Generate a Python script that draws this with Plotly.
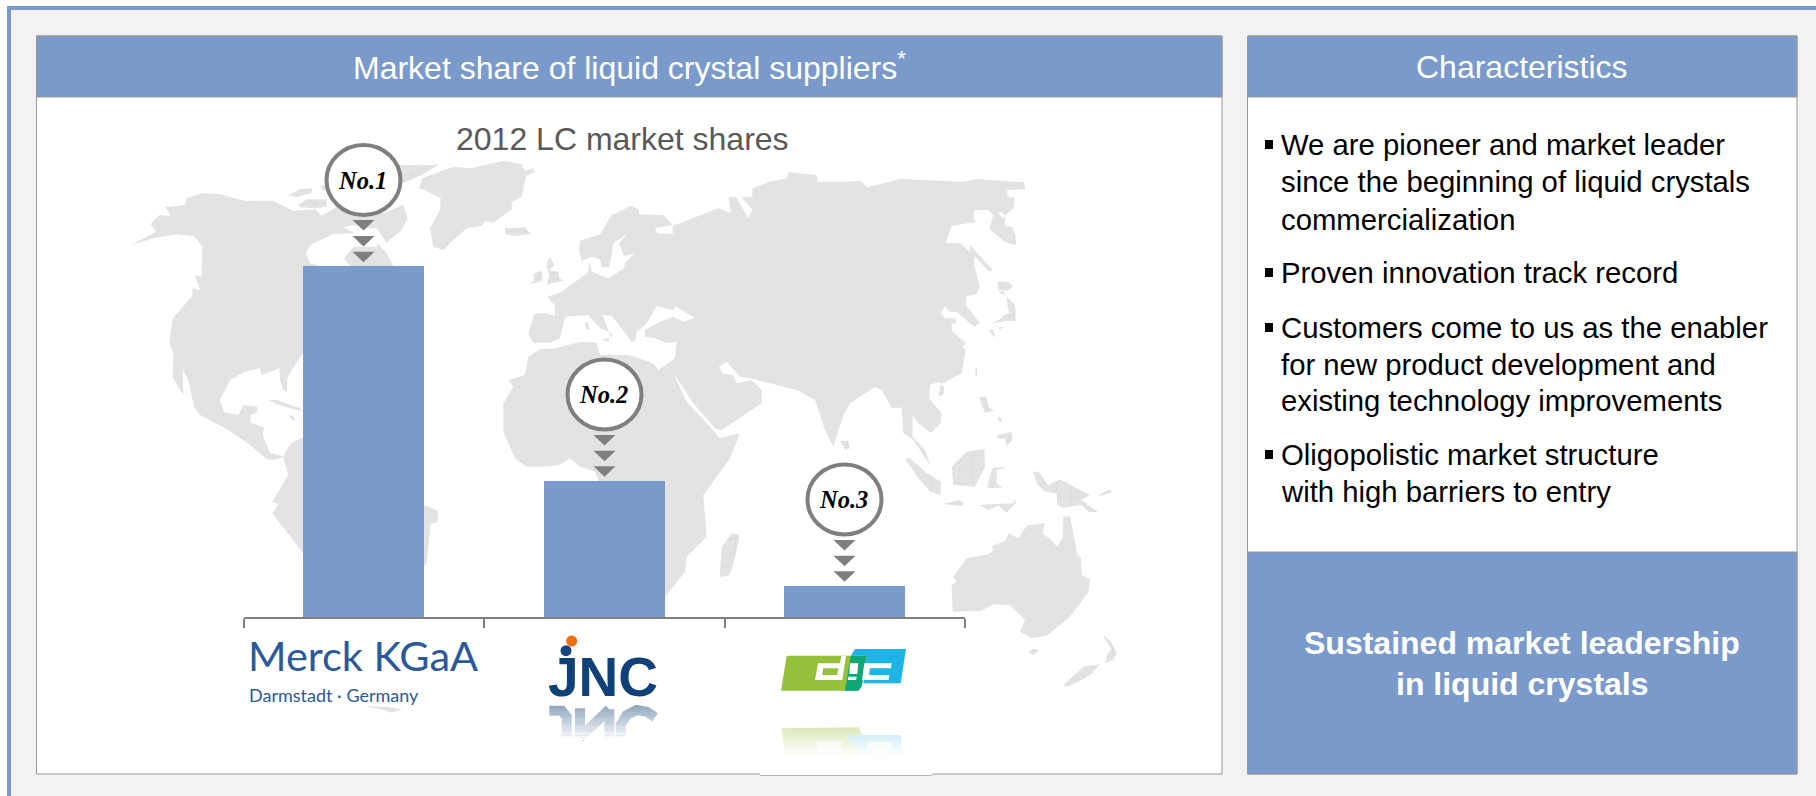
import plotly.graph_objects as go

# ---------------- chart data ----------------
suppliers = ["Merck KGaA", "JNC", "DIC"]
shares = [68.0, 26.4, 6.1]          # bar heights (no axis labels in the source)
ranks = ["No.1", "No.2", "No.3"]
BLUE = "#7b9acc"
GREY = "#7f7f7f"
LAND = "#e3e3e3"

# ---------------- map outline (pixel-like map units) ----------------
# Each frame is (origin x, origin y, divisor)
def F(ox, oy):
    return lambda pts: [(ox + a / 3, oy + b / 3) for a, b in pts]
Z4, Z5, Z6, Z7, Z8, Z9 = F(120, 150), F(120, 380), F(500, 150), F(850, 150), F(520, 370), F(850, 370)

north_america = Z4([(35,285),(108,245),(92,222),(118,195),(152,197),(137,172),(195,165),(200,145),(245,130),(300,133),
    (372,152),(460,153),(520,182),(585,178),(605,197),(660,165),(790,190),(850,165),(863,205),(845,240),(800,278),(772,278),
    (800,310),(820,348),(820,500),(700,600),(549,610),(503,680),(500,725),(490,720),(480,690),(478,655),(425,675),(420,655),
    (375,665),(330,690),(300,750),(312,787),(355,795),(370,765),(412,770),(412,787),(390,795),(392,818),(432,832),(428,855),
    (450,908),(500,922),(490,922),(460,930),(440,928),(390,885),(325,840),(240,795),(222,770),(205,690),(175,635),(188,650),
    (190,737),(165,690),(158,680),(160,610),(148,580),(158,505),(215,440),(218,415),(240,420),(225,375),(245,380),(247,290),
    (222,258),(170,253),(100,265)])
hudson_bay = Z4([(558,310),(570,285),(640,252),(705,250),(670,232),(700,225),(745,235),(770,235),(800,278),(772,280),
    (770,290),(700,290),(672,325),(690,348),(600,348),(570,340)])
south_america = Z5([(520,185),(600,150),(800,250),(912,375),(953,392),(953,425),(932,432),(920,550),(905,570),(700,650),
    (549,520),(457,400),(475,372),(457,365),(505,285),(490,232),(505,200)])
fuego = Z5([(735,978),(800,980),(847,988),(815,998),(790,990)])
greenland = Z4([(897,115),(907,85),(1000,50),(1055,55),(1095,45),(1150,33),(1205,42),(1215,62),(1240,55),(1245,65),
    (1218,78),(1205,140),(1175,155),(1175,178),(1120,218),(1095,212),(1085,228),(1040,235),(1000,270),(970,300),(940,290),
    (930,235),(960,180),(962,145),(915,120)])
eurasia_africa = (
    Z6([(85,552),(103,492),(140,490),(165,497),(165,467),(142,440),(185,425),(265,367),(268,335),(275,365),(325,385),
        (372,355),(375,338),(405,310),(372,318),(357,280),(385,250),(340,280),(335,310),(332,330),(328,352),(305,352),
        (300,328),(275,320),(245,333),(237,300),(240,272),(300,253),(335,195),(392,168),(416,178),(418,193),(490,195),
        (518,225),(465,235),(472,250),(518,252),(518,228),(655,175),(693,190),(686,142),(708,140),(745,205),(757,180),
        (725,142),(757,140),(757,115),(810,95),(860,85),(865,67),(950,75),(953,95),(1050,95)])
    + Z7([(30,92),(52,112),(120,95),(150,87),(340,95),(380,87),(522,97),(527,118),(472,120),(472,140),(495,143),(490,175),
        (465,197),(465,228),(487,232),(497,258),(497,285),(465,277),(418,237),(430,195),(415,180),(372,180),(372,210),
        (380,215),(340,222),(305,228),(287,278),(330,280),(358,305),(360,285),(428,360),(418,365),(373,318),(372,345),
        (390,410),(378,433),(350,437),(347,465),(390,520),(372,530),(320,485),(298,485),(285,468),(273,490),(285,505),
        (318,505),(318,518),(305,522),(305,543),(348,580),(338,590),(347,600)])
    + Z9([(335,10),(275,42),(268,35),(240,45),(238,85),(275,130),(272,160),(243,188),(205,160),(188,135),(187,200),
        (225,240),(242,287),(190,210),(160,190),(155,113),(125,113),(95,60),(75,50),(0,100)])
    + Z8([(970,135),(940,230),(915,180),(885,90),(830,60),(690,25),(660,20),(620,-25),(597,-10),(610,12),(640,15),(650,40),
        (695,30),(725,60),(725,100),(605,180),(585,175),(520,100),(460,10),(500,95),(570,170),(600,205),(660,190),(630,265),
        (550,375),(560,500),(500,560),(495,605),(435,680),(435,745),(240,745),(235,330),(225,305),(180,290),(150,265),
        (120,285),(60,290),(20,290),(-15,265),(-50,185),(-50,100),(-20,50)])
    + Z6([(25,690),(75,675),(85,620),(120,597),(170,595),(180,590),(245,575),(290,578),(300,615),(388,615),(460,640),
        (475,660),(525,625),(530,575),(495,578),(465,565),(435,560),(435,540),(480,515),(520,500),(550,515),(585,503),
        (525,468),(520,480),(470,468),(440,520),(410,545),(405,575),(395,575),(360,530),(335,497),(307,495),(325,540),
        (335,567),(335,550),(300,535),(265,495),(195,500),(180,565),(150,578),(100,578)])
)
sardinia = Z6([(253,520),(262,517),(270,538),(262,540)])
sicily = Z6([(305,570),(328,562),(325,575)])
kamchatka_dot = Z7([(445,190),(455,185),(465,197),(460,205)])
australia = Z9([(305,645),(320,635),(310,620),(350,565),(415,553),(432,540),(423,530),(465,512),(477,490),(505,505),(530,467),
    (585,458),(577,490),(605,510),(620,530),(638,505),(640,440),(660,437),(682,555),(693,565),(695,615),(720,628),(715,665),
    (660,740),(590,797),(545,805),(510,785),(525,750),(480,705),(430,703),(395,722),(308,725)])
sri_lanka = Z8([(960,212),(985,213),(990,235),(975,240)])
land_plain = [north_america, south_america, fuego, greenland, eurasia_africa, australia]

# islands that carry the coarse grid in the source
islands = [
    Z4([(505,135),(540,118),(578,115),(575,128),(530,142)]),
    Z4([(535,165),(560,148),(620,148),(620,170),(585,175),(540,172)]),
    Z4([(835,45),(955,45),(905,75),(850,100),(835,100)]),
    Z4([(600,110),(625,100),(625,125),(610,120)]),
    Z4([(1155,235),(1215,232),(1232,252),(1185,258),(1155,252)]),
    Z6([(140,340),(150,320),(162,345),(150,362),(175,365),(178,385),(192,392),(140,403),(148,375),(140,350)]),
    Z6([(100,372),(125,362),(128,392),(88,404),(102,390)]),
    Z5([(447,60),(470,60),(540,85),(545,93),(510,85),(470,72)]),
    Z5([(505,105),(520,108),(527,122),(515,118)]),
    Z8([(600,620),(605,530),(635,490),(658,495),(655,520),(635,600),(625,618)]),
    sri_lanka, sardinia, sicily,
    Z9([(265,78),(272,45),(283,50),(280,75)]),
    Z9([(165,267),(180,263),(225,305),(272,335),(272,375),(240,365),(205,325)]),
    Z9([(278,402),(325,390),(342,398),(338,408),(305,405)]),
    Z9([(305,290),(350,245),(403,237),(405,290),(375,350),(310,345)]),
    Z9([(412,352),(425,300),(433,292),(470,293),(440,300),(440,340),(457,353),(420,355)]),
    Z9([(388,405),(430,402),(490,400),(495,385),(497,400),(470,428),(445,407),(415,420)]),
    Z9([(388,82),(408,78),(415,110),(432,122),(405,128),(395,105)]),
    Z9([(443,142),(450,140),(457,155),(447,155)]),
    Z9([(442,195),(470,190),(485,185),(487,210),(470,228),(465,205),(442,207)]),
    Z7([(376,655),(381,655),(381,680),(376,680)]),
    Z9([(550,305),(565,305),(595,345),(630,328),(720,375),(695,390),(745,427),(715,425),(695,405),(640,413),(622,405),
        (620,370),(585,365),(560,340)]),
    Z9([(745,375),(780,358),(785,367),(755,377)]),
    Z9([(535,845),(553,835),(567,843),(548,855)]),
    Z9([(757,793),(783,815),(800,850),(790,870),(765,880),(775,845),(785,840)]),
    Z9([(640,945),(700,890),(750,883),(720,915),(680,938),(650,950)]),
    Z7([(443,395),(473,395),(490,408),(472,422),(445,420)]),
    Z7([(445,425),(462,423),(465,437)]),
    Z7([(470,440),(495,465),(497,513),(465,513),(420,522),(450,508),(462,495),(478,490),(472,465)]),
    Z7([(443,533),(462,530),(450,538)]),
    Z7([(417,540),(428,537),(435,555),(433,563)]),
]

# ---------------- text ----------------
title_left = "Market share of liquid crystal suppliers<sup>*</sup>"
title_right = "Characteristics"
chart_title = "2012 LC market shares"
bullet_lines = [
    ("We are pioneer and market leader", 144, True),
    ("since the beginning of liquid crystals", 181, False),
    ("commercialization", 219, False),
    ("Proven innovation track record", 272, True),
    ("Customers come to us as the enabler", 327, True),
    ("for new product development and", 364, False),
    ("existing technology improvements", 400, False),
    ("Oligopolistic market structure", 454, True),
    ("with high barriers to entry", 491, False),
]
conclusion = ["Sustained market leadership", "in liquid crystals"]

# ---------------- figure ----------------
fig = go.Figure()
W, H = 1816, 796

def poly(pts, **kw):
    xs, ys = zip(*pts)
    fig.add_trace(go.Scatter(x=list(xs), y=list(ys), mode="lines", fill="toself", line=dict(width=0),
                             hoverinfo="skip", showlegend=False, **kw))

for p in land_plain:
    poly(p, fillcolor=LAND)
poly(hudson_bay, fillcolor="white")
poly(kamchatka_dot, fillcolor="white")
for p in islands:
    poly(p, fillcolor="#e3e3e3",
         fillpattern=dict(shape="+", size=14, solidity=0.06, fgcolor="#c4c4c4", bgcolor="#e3e3e3"))

fig.add_trace(go.Bar(x=suppliers, y=shares, width=0.502, offset=-0.253, marker=dict(color=BLUE, line=dict(width=0)),
                     xaxis="x2", yaxis="y2", hoverinfo="skip", showlegend=False))

shapes, ann = [], []

def rect(x0, y0, x1, y1, fill, line=None, lw=1, layer="below", opacity=None):
    s = dict(type="rect", xref="x", yref="y", x0=x0, y0=y0, x1=x1, y1=y1, fillcolor=fill, layer=layer,
             line=dict(color=line or "rgba(0,0,0,0)", width=lw if line else 0))
    if opacity is not None:
        s["opacity"] = opacity
    shapes.append(s)

def path(pts, fill=None, line=None, lw=0):
    d = "M" + "L".join(f"{a:.1f},{b:.1f}" for a, b in pts) + ("Z" if fill else "")
    shapes.append(dict(type="path", xref="x", yref="y", path=d, layer="above",
                       fillcolor=fill or "rgba(0,0,0,0)",
                       line=dict(color=line or "rgba(0,0,0,0)", width=lw)))

def text(t, x, y, size, color="black", anchor="center", family="Liberation Sans", bold=False, italic=False):
    if bold:
        t = f"<b>{t}</b>"
    if italic:
        t = f"<i>{t}</i>"
    ann.append(dict(text=t, x=x, y=y, xref="x", yref="y", showarrow=False, xanchor=anchor, yanchor="middle",
                    font=dict(family=family, size=size, color=color)))

# page frame and panels
rect(0, 0, W, H, "white")
rect(7, 6, W, H, BLUE)
rect(11, 10, W, H, "#f2f2f2")
BORDER = "#999999"
rect(36.5, 36, 1222, 774, "white", BORDER)
rect(36.5, 36, 1222, 97, BLUE, BORDER)
rect(1247.5, 36, 1797, 774, "white", BORDER)
rect(1247.5, 36, 1797, 97, BLUE, BORDER)
rect(1247.5, 552, 1797, 774, BLUE, BORDER)

text(title_left, 629, 66, 32, "white")
text(title_right, 1522, 67, 32, "white")
text(chart_title, 622, 139, 32, "#595959")
for t, y, bullet in bullet_lines:
    text(t, 1279, y, 29.3, "black", anchor="left")
    if bullet:
        rect(1265, y - 4, 1273, y + 5, "black", layer="above")
text(conclusion[0], 1522, 643, 32, "white", bold=True)
text(conclusion[1], 1522, 684, 32, "white", bold=True)

# rank badges and arrows
badges = [(363.5, 180), (604.5, 394.5), (844.5, 499.5)]
arrows = [(363.5, (220, 236, 251.7)), (604.5, (435, 450.7, 466.3)), (844.5, (540, 555.7, 571.3))]
for (cx, cy), r in zip(badges, ranks):
    shapes.append(dict(type="circle", xref="x", yref="y", x0=cx - 37, x1=cx + 37, y0=cy - 35, y1=cy + 35,
                       fillcolor="white", line=dict(color=GREY, width=4), layer="above"))
    text(r, cx - 1, cy, 24.5, "black", family="Liberation Serif", bold=True, italic=True)
for cx, ys in arrows:
    for y in ys:
        path([(cx - 11, y), (cx + 11, y), (cx, y + 10.5)], fill=GREY)

# Merck logo
rect(249, 636, 477, 705, "white", layer="above")
text("Merck KGaA", 246, 655, 41.5, "#2b5a9c", family="Lato", anchor="left")
text("Darmstadt · Germany", 247, 695, 18, "#2b5a9c", family="Lato", anchor="left")

# white box behind the DIC logo, running past the panel edge
rect(760, 640, 932, 775, "white", layer="above")
shapes.append(dict(type="line", xref="x", yref="y", x0=760, x1=932, y0=775.5, y1=775.5, layer="above",
                   line=dict(color="#b5b5b5", width=1)))

# JNC logo
Z10 = F(530, 620)
text("JNC", 603, 677, 55, "#0f4178", bold=True)
c1 = Z10([(108, 92)])[0]
c2 = Z10([(125, 63)])[0]
shapes.append(dict(type="circle", xref="x", yref="y", x0=c1[0]-5.5, x1=c1[0]+5.5, y0=c1[1]-5.5, y1=c1[1]+5.5,
                   fillcolor="#14457f", line=dict(width=0), layer="above"))
shapes.append(dict(type="circle", xref="x", yref="y", x0=c2[0]-5.5, x1=c2[0]+5.5, y0=c2[1]-5.5, y1=c2[1]+5.5,
                   fillcolor="#ee6f12", line=dict(width=0), layer="above"))
REFL = "#93a9c0"
for stroke in ([(58,272),(95,272),(110,290),(110,352)], [(150,352),(150,265)], [(150,352),(238,268)],
               [(238,268),(238,352)], [(375,292),(350,275),(320,270),(290,285),(272,315),(272,352)]):
    path(Z10(stroke), line=REFL, lw=10)
for i in range(14):
    y0 = 262 + i * 7
    a, b = Z10([(45, y0), (395, y0 + 7)])
    rect(a[0], a[1], b[0], b[1], "white", layer="above", opacity=min(1, 0.07 * i + 0.07))

# DIC logo
path(Z10([(770,107),(1010,107),(995,195),(985,212),(753,212)]), fill="#96c13d")
path(Z10([(975,87),(1128,87),(1112,190),(1000,190),(1010,107),(962,107)]), fill="#1cb5e5")
path(Z10([(962,107),(1010,107),(995,200),(985,212),(945,212)]), fill="#0fa777")
path(Z10([(864,130),(930,130),(934,108),(948,108),(937,180),(855,180)]), fill="white")
path(Z10([(880,145),(925,145),(922,165),(876,165)]), fill="#96c13d")
path(Z10([(960,130),(985,130),(982,162),(958,162)]), fill="white")
path(Z10([(955,170),(980,170),(978,180),(953,180)]), fill="white")
path(Z10([(1003,130),(1085,130),(1083,145),(1020,145),(1017,165),(1078,165),(1076,180),(996,180)]), fill="white")
path(Z10([(755,325),(985,322),(997,345),(1000,405),(765,405)]), fill="#d8e7b4")
path(Z10([(945,345),(1113,345),(1116,405),(1000,405)]), fill="#bfe6f2")
path(Z10([(860,365),(935,365),(935,405),(860,405)]), fill="#f2f7e4")
path(Z10([(1010,365),(1085,365),(1085,405),(1010,405)]), fill="#ecf8fb")
for i in range(14):
    y0 = 320 + i * 6
    a, b = Z10([(745, y0), (1125, y0 + 6)])
    rect(a[0], a[1], b[0], b[1], "white", layer="above", opacity=min(1, 0.07 * i + 0.1))

BASE = 617.3
fig.update_layout(
    width=W, height=H, margin=dict(l=0, r=0, t=0, b=0), paper_bgcolor="white", plot_bgcolor="rgba(0,0,0,0)",
    bargap=0, shapes=shapes, annotations=ann, showlegend=False,
    xaxis=dict(domain=[0, 1], range=[0, W], visible=False, fixedrange=True),
    yaxis=dict(domain=[0, 1], range=[H, 0], visible=False, fixedrange=True),
    xaxis2=dict(domain=[243.5 / W, 965 / W], anchor="y2", type="category", range=[-0.5, 2.5], categoryorder="array",
                categoryarray=suppliers, showgrid=False, zeroline=False, showline=True, linecolor=GREY, linewidth=2,
                ticks="outside", tickson="boundaries", ticklen=9, tickwidth=2, tickcolor=GREY,
                showticklabels=False, fixedrange=True),
    yaxis2=dict(domain=[(H - BASE) / H, (H - 97) / H], anchor="x2", range=[0, 100.8], visible=False, fixedrange=True),
)

fig.write_html("out.html", config={"displayModeBar": False},
               post_script="document.body.style.margin='0';document.documentElement.style.overflow='hidden';")
